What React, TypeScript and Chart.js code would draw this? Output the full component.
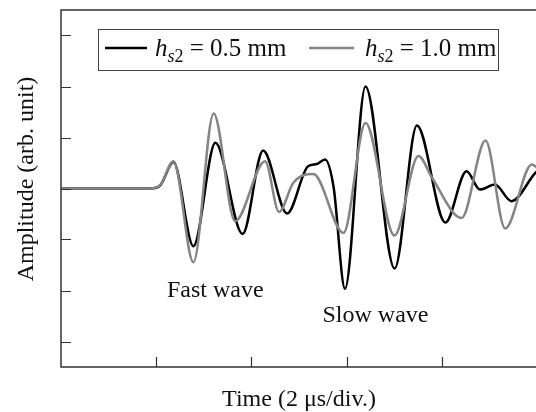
import React, { useEffect, useRef } from "react";
import { Chart, registerables } from "chart.js";

Chart.register(...registerables);

// Time in microseconds (x axis spans 5 divisions of 2 μs)
const thinTimes = [0, 1.874, 2.084, 2.362, 2.782, 3.244, 3.815, 4.246, 4.75, 5.19, 5.373, 5.547, 5.725, 5.966, 6.397, 7.009, 7.477, 8.076, 8.52, 8.8, 9.115, 9.465, 9.975, 10];
const thinAmps = [0, 0, 0.059, 0.52, -1.131, 0.896, -0.892, 0.745, -0.49, 0.437, 0.48, 0.569, 0.039, -1.967, 2.0, -1.569, 1.235, -0.667, 0.339, -0.02, 0.078, -0.249, 0.314, 0.33];

const thickTimes = [0, 1.874, 2.08, 2.362, 2.782, 3.207, 3.658, 4.288, 4.581, 4.881, 5.301, 5.935, 6.397, 7.005, 7.509, 7.8, 8.416, 8.919, 9.331, 9.891, 10];
const thickAmps = [0, 0, 0.06, 0.535, -1.445, 1.471, -0.641, 0.535, -0.461, 0.112, 0.284, -0.873, 1.284, -0.922, 0.637, 0.2, -0.578, 0.941, -0.784, 0.471, 0.41];

const seriesValues = ["0.5 mm", "1.0 mm"];
const yTickValues = [-3, -2, -1, 0, 1, 2, 3];
const xTickValues = [2, 4, 6, 8];
const xTitle = "Time (2 μs/div.)";
const yTitle = "Amplitude (arb. unit)";
const notes = ["Fast wave", "Slow wave"];

const FONT = '"Liberation Serif", "Times New Roman", serif';

const toPoints = (ts: number[], vs: number[]) => ts.map((t, i) => ({ x: t, y: vs[i] }));

const framePlugin = {
  id: "frame",
  afterDraw(chart: any) {
    const { ctx, chartArea } = chart;
    const { left, right, top, bottom } = chartArea;
    const xs = chart.scales.x;
    const ys = chart.scales.y;
    ctx.save();
    // frame
    ctx.strokeStyle = "#333";
    ctx.lineWidth = 1.5;
    ctx.beginPath();
    ctx.moveTo(right, top);
    ctx.lineTo(left, top);
    ctx.lineTo(left, bottom);
    ctx.lineTo(right, bottom);
    ctx.stroke();
    // inner ticks
    ctx.lineWidth = 1.2;
    ctx.beginPath();
    yTickValues.forEach((v) => {
      const py = Math.round(ys.getPixelForValue(v)) + 0.5;
      ctx.moveTo(left, py);
      ctx.lineTo(left + 10, py);
    });
    xTickValues.forEach((v) => {
      const px = Math.round(xs.getPixelForValue(v)) + 0.5;
      ctx.moveTo(px, bottom);
      ctx.lineTo(px, bottom - 10);
    });
    ctx.stroke();

    // axis titles
    ctx.fillStyle = "#111";
    ctx.font = `24px ${FONT}`;
    ctx.textAlign = "center";
    ctx.textBaseline = "alphabetic";
    ctx.fillText(xTitle, (left + right) / 2, 406);
    ctx.save();
    ctx.translate(33, 179);
    ctx.rotate(-Math.PI / 2);
    ctx.fillText(yTitle, 0, 0);
    ctx.restore();

    // annotations
    ctx.fillText(notes[0], xs.getPixelForValue(3.24), ys.getPixelForValue(-2.118));
    ctx.fillText(notes[1], xs.getPixelForValue(6.607), ys.getPixelForValue(-2.627));

    // legend
    const bx = 98.5, by = 29.5, bw = 400, bh = 41;
    ctx.fillStyle = "#fff";
    ctx.fillRect(bx, by, bw, bh);
    ctx.strokeStyle = "#444";
    ctx.lineWidth = 1;
    ctx.strokeRect(bx, by, bw, bh);

    const items = [
      { color: "#000", x0: 105, x1: 147, tx: 155, text: seriesValues[0] },
      { color: "#858585", x0: 309, x1: 354, tx: 365, text: seriesValues[1] },
    ];
    items.forEach((it) => {
      ctx.strokeStyle = it.color;
      ctx.lineWidth = 2.5;
      ctx.beginPath();
      ctx.moveTo(it.x0, 48);
      ctx.lineTo(it.x1, 48);
      ctx.stroke();
      ctx.fillStyle = "#111";
      ctx.textAlign = "left";
      let x = it.tx;
      ctx.font = `italic 25px ${FONT}`;
      ctx.fillText("h", x, 56);
      x += ctx.measureText("h").width;
      ctx.font = `italic 18px ${FONT}`;
      ctx.fillText("s", x, 62);
      x += ctx.measureText("s").width;
      ctx.font = `18px ${FONT}`;
      ctx.fillText("2", x, 62);
      x += ctx.measureText("2").width;
      ctx.font = `25px ${FONT}`;
      ctx.fillText(" = " + it.text, x, 56);
    });
    ctx.restore();
  },
};

export default function App() {
  const canvasRef = useRef<HTMLCanvasElement | null>(null);

  useEffect(() => {
    if (!canvasRef.current) return;
    const chart = new Chart(canvasRef.current, {
      type: "line",
      data: {
        datasets: [
          {
            label: "h_s2 = " + seriesValues[1],
            data: toPoints(thickTimes, thickAmps),
            borderColor: "#858585",
            borderWidth: 2.5,
            pointRadius: 0,
            cubicInterpolationMode: "monotone",
            order: 0,
          },
          {
            label: "h_s2 = " + seriesValues[0],
            data: toPoints(thinTimes, thinAmps),
            borderColor: "#000",
            borderWidth: 2.5,
            pointRadius: 0,
            cubicInterpolationMode: "monotone",
            order: 1,
          },
        ],
      },
      options: {
        responsive: true,
        maintainAspectRatio: false,
        animation: false,
        layout: { padding: { top: 10, right: 3, left: 0, bottom: 0 } },
        plugins: { legend: { display: false }, tooltip: { enabled: false } },
        scales: {
          x: {
            type: "linear",
            min: 0,
            max: 10,
            grid: { display: false },
            border: { display: false },
            ticks: { display: false },
            afterFit: (s: any) => {
              s.height = 45;
            },
          },
          y: {
            min: -3.5,
            max: 3.5,
            grid: { display: false },
            border: { display: false },
            ticks: { display: false },
            afterFit: (s: any) => {
              s.width = 61;
            },
          },
        },
      },
      plugins: [framePlugin],
    } as any);
    return () => chart.destroy();
  }, []);

  return (
    <div style={{ position: "fixed", left: 0, top: 0, width: 536, height: 412, overflow: "hidden", background: "#fff" }}>
      <div style={{ position: "relative", width: 540, height: 412 }}>
        <canvas ref={canvasRef} />
      </div>
    </div>
  );
}
